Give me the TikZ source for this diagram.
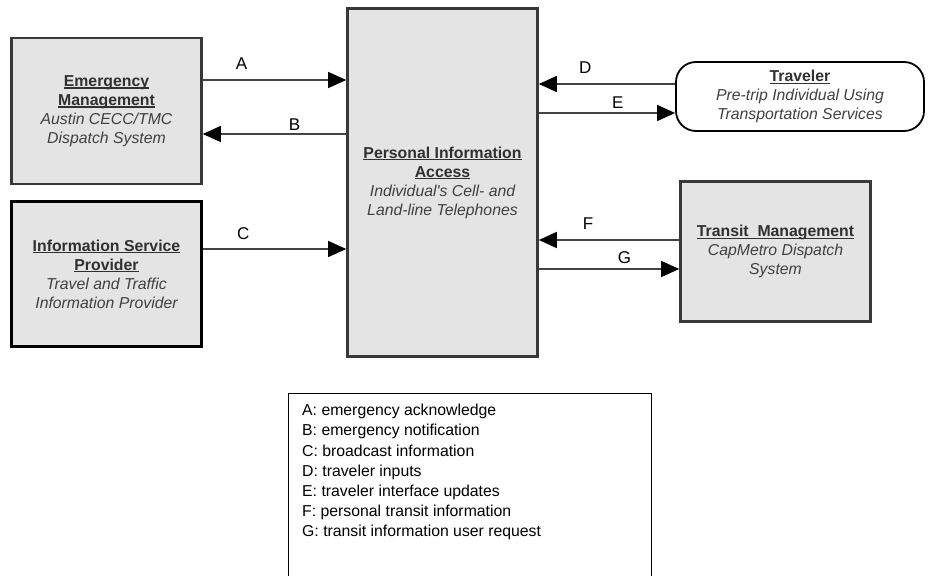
\documentclass[tikz,border=0pt]{standalone}
\usepackage{fontspec}
\setmainfont{Liberation Sans}
\usetikzlibrary{arrows.meta}

\definecolor{boxfill}{HTML}{E4E4E4}
\definecolor{edgegray}{HTML}{383838}
\definecolor{linegray}{HTML}{444444}
\definecolor{titlegray}{HTML}{303030}
\definecolor{descgray}{HTML}{404040}

% bold title with a rule just under the baseline
\newcommand{\enttitle}[1]{{\color{titlegray}\bfseries\setbox0\hbox{#1}\rlap{\rule[-2.3pt]{\wd0}{1.1pt}}\box0}}
\newcommand{\entdesc}[1]{{\color{descgray}\itshape #1}}

\begin{document}
\begin{tikzpicture}[x=1pt, y=-1pt,
    ent/.style={rectangle, draw=edgegray, line width=2.6pt, fill=boxfill, minimum width=190pt, align=center, inner sep=0pt, font=\fontsize{15.8}{19}\selectfont},
    arr/.style={-{Triangle[length=18pt, width=16pt, color=black]}, line width=1.3pt, draw=linegray},
    lbl/.style={font=\fontsize{17}{20}\selectfont, anchor=base, inner sep=0pt}
]
\clip (0,0) rectangle (928,575);

% terminators around the central subsystem
\node[ent, minimum height=146pt] (em) at (106.5,111) {\enttitle{Emergency}\\\enttitle{Management}\\\entdesc{Austin CECC/TMC}\\\entdesc{Dispatch System}};
\node[ent, draw=black, line width=3.2pt, minimum height=145pt] (isp) at (106.5,274) {\enttitle{Information Service}\\\enttitle{Provider}\\\entdesc{Travel and Traffic}\\\entdesc{Information Provider}};
\node[ent, minimum height=348pt] (pia) at (442.5,182.5) {\enttitle{Personal Information}\\\enttitle{Access}\\\entdesc{Individual\textquotesingle s Cell- and}\\\entdesc{Land-line Telephones}};
\node[ent, draw=black, fill=white, line width=1.8pt, rounded corners=20pt, minimum width=248pt, minimum height=69pt] (trav) at (800,96.5) {\enttitle{Traveler}\\\entdesc{Pre-trip Individual Using}\\\entdesc{Transportation Services}};
\node[ent, minimum height=140pt] (tm) at (775.5,251.5) {\enttitle{Transit\ \ Management}\\\entdesc{CapMetro Dispatch}\\\entdesc{System}};

% flows
\draw[arr] ([yshift=31pt]em.east) -- ([yshift=31pt]em.east -| pia.west) node[lbl, pos=0.27, yshift=10pt] {A};
\draw[arr] ([yshift=-23pt]em.east -| pia.west) -- ([yshift=-23pt]em.east) node[lbl, pos=0.36, yshift=4pt] {B};
\draw[arr] ([yshift=25pt]isp.east) -- ([yshift=25pt]isp.east -| pia.west) node[lbl, pos=0.28, yshift=10pt] {C};
\draw[arr] ([yshift=12.5pt]trav.west) -- ([yshift=12.5pt]trav.west -| pia.east) node[lbl, pos=0.66, yshift=10pt] {D};
\draw[arr] ([yshift=-16.5pt]trav.west -| pia.east) -- ([yshift=-16.5pt]trav.west) node[lbl, pos=0.58, yshift=4pt] {E};
\draw[arr] ([yshift=11.5pt]tm.west) -- ([yshift=11.5pt]tm.west -| pia.east) node[lbl, pos=0.65, yshift=11pt] {F};
\draw[arr] ([yshift=-17.5pt]tm.west -| pia.east) -- ([yshift=-17.5pt]tm.west) node[lbl, pos=0.61, yshift=6pt] {G};

% key to the flow letters
\node[draw=black, line width=1.4pt, minimum width=363pt, minimum height=220pt, anchor=north west] (legend) at (288,393) {};
\node[anchor=north west, align=left, inner sep=0pt, font=\fontsize{15.8}{20.2}\selectfont] (keys) at (302,404) {A: emergency acknowledge\\B: emergency notification\\C: broadcast information\\D: traveler inputs\\E: traveler interface updates\\F: personal transit information\\G: transit information user request};
\end{tikzpicture}
\end{document}
